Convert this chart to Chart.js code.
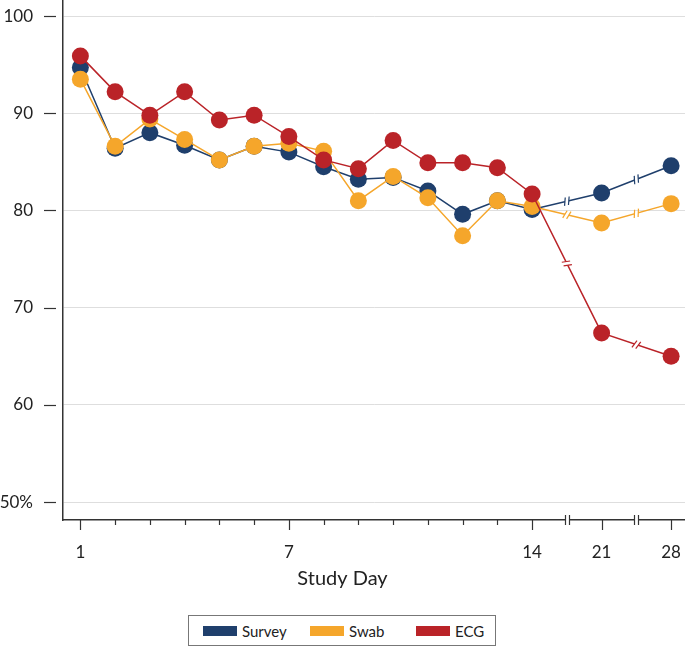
<!DOCTYPE html>
<html>
<head>
<meta charset="utf-8">
<script src="https://cdn.jsdelivr.net/npm/chart.js@4"></script>
<style>
  body { margin: 0; background: #fff; font-family: Lato, "Open Sans", sans-serif; }
  #wrap { position: relative; width: 685px; height: 646px; }
  #legend { position: absolute; left: 188px; top: 615px; width: 306px; height: 29px; border: 1px solid #777; font-size: 15px; color: #222; }
  .item { position: absolute; top: 0; height: 29px; display: flex; align-items: center; }
  .sw { width: 34px; height: 10px; margin-right: 5px; }
</style>
</head>
<body>
<div id="wrap">
  <canvas id="chart" width="685" height="608"></canvas>
  <div id="legend"></div>
</div>
<script>
const DAYS = [1, 2, 3, 4, 5, 6, 7, 8, 9, 10, 11, 12, 13, 14, 21, 28];
const LABELED_DAYS = [1, 7, 14, 21, 28];
const Y_TICKS = [50, 60, 70, 80, 90, 100];
const SURVEY = [94.7, 86.4, 88.0, 86.7, 85.2, 86.6, 86.0, 84.5, 83.2, 83.4, 82.0, 79.6, 81.0, 80.1, 81.8, 84.6];
const SWAB = [93.5, 86.6, 89.4, 87.3, 85.2, 86.6, 86.9, 86.1, 81.0, 83.5, 81.3, 77.4, 81.0, 80.4, 78.7, 80.7];
const ECG = [95.9, 92.2, 89.8, 92.2, 89.3, 89.8, 87.6, 85.2, 84.3, 87.2, 84.9, 84.9, 84.4, 81.7, 67.4, 65.0];

const SERIES = [
  { label: "Survey", values: SURVEY, color: "#1f3f6c", order: 3 },
  { label: "Swab", values: SWAB, color: "#f5a62b", order: 2 },
  { label: "ECG", values: ECG, color: "#ba2328", order: 1 },
];

// daily slots up to day 14, then weekly days squeezed into two slots each
function slot(day) {
  return day <= 14 ? day - 1 : 13 + (day - 14) / 3.5;
}

// indexes i where the axis jumps between DAYS[i] and DAYS[i + 1]
const gaps = DAYS.slice(0, -1).map((d, i) => i).filter((i) => DAYS[i + 1] - DAYS[i] > 1);

// chart.js reserves room for the edge labels + tick padding; we don't want that
function noEdgePadding(s) {
  s.paddingTop = 0;
  s.paddingBottom = 0;
  s.paddingLeft = 0;
  s.paddingRight = 0;
}

function breakMark(ctx, cx, cy, angle, color) {
  ctx.save();
  ctx.translate(cx, cy);
  ctx.rotate(angle);
  ctx.fillStyle = "#fff";
  ctx.fillRect(-2, -2, 4, 4);
  ctx.strokeStyle = color;
  ctx.lineWidth = 1.2;
  [-2, 2].forEach((dx) => {
    ctx.beginPath();
    ctx.moveTo(dx - 1.3, 4);
    ctx.lineTo(dx + 1.3, -4);
    ctx.stroke();
  });
  ctx.restore();
}

const axisMarks = {
  id: "axisMarks",
  afterDatasetsDraw(chart) {
    const ctx = chart.ctx;
    chart.data.datasets.forEach((ds, di) => {
      const pts = chart.getDatasetMeta(di).data;
      gaps.forEach((i) => {
        const a = pts[i], b = pts[i + 1];
        breakMark(ctx, (a.x + b.x) / 2, (a.y + b.y) / 2, Math.atan2(b.y - a.y, b.x - a.x), ds.borderColor);
      });
    });
  },
  afterDraw(chart) {
    const { ctx, scales: { x, y }, chartArea } = chart;
    ctx.save();
    ctx.strokeStyle = "#333";
    ctx.lineWidth = 1.2;
    Y_TICKS.forEach((v) => {
      const py = Math.round(y.getPixelForValue(v)) + 0.5;
      ctx.beginPath();
      ctx.moveTo(chartArea.left - 19, py);
      ctx.lineTo(chartArea.left - 7, py);
      ctx.stroke();
    });
    const base = chartArea.bottom;
    DAYS.forEach((d) => {
      const px = Math.round(x.getPixelForValue(slot(d))) + 0.5;
      const len = LABELED_DAYS.includes(d) ? 10 : 5;
      ctx.beginPath();
      ctx.moveTo(px, base);
      ctx.lineTo(px, base + len);
      ctx.stroke();
    });
    gaps.forEach((i) => {
      const px = Math.round(x.getPixelForValue((slot(DAYS[i]) + slot(DAYS[i + 1])) / 2));
      ctx.fillStyle = "#fff";
      ctx.fillRect(px - 2, base - 2, 4, 4);
      [px - 2, px + 2].forEach((bx) => {
        ctx.beginPath();
        ctx.moveTo(bx + 0.5, base - 5);
        ctx.lineTo(bx + 0.5, base + 5);
        ctx.stroke();
      });
    });
    ctx.restore();
  },
};

new Chart(document.getElementById("chart"), {
  type: "line",
  data: {
    datasets: SERIES.map((s) => ({
      label: s.label,
      data: DAYS.map((d, i) => ({ x: slot(d), y: s.values[i] })),
      borderColor: s.color,
      backgroundColor: s.color,
      pointBackgroundColor: s.color,
      pointBorderWidth: 0,
      pointRadius: 8.5,
      borderWidth: 1.5,
      tension: 0,
      order: s.order,
    })),
  },
  options: {
    responsive: false,
    animation: false,
    layout: { padding: 0, autoPadding: false },
    plugins: {
      legend: { display: false },
      tooltip: { enabled: false },
      // axis title sits centred on the whole figure, not on the plot
      title: {
        display: true,
        position: "bottom",
        text: "Study Day",
        color: "#222",
        font: { family: "Lato", size: 20, weight: "normal" },
        padding: { top: 0, bottom: 17 },
      },
    },
    scales: {
      x: {
        type: "linear",
        min: -0.5,
        max: 17.4,
        afterBuildTicks: (s) => { s.ticks = DAYS.map((d) => ({ value: slot(d) })); },
        afterFit: (s) => { s.height = 47; noEdgePadding(s); },
        grid: { display: false },
        border: { color: "#333", width: 1.5 },
        ticks: {
          autoSkip: false,
          maxRotation: 0,
          padding: 14,
          color: "#222",
          font: { family: "Lato", size: 17 },
          callback: (v) => {
            const d = DAYS.find((day) => slot(day) === v);
            return LABELED_DAYS.includes(d) ? String(d) : "";
          },
        },
      },
      y: {
        min: 48.15,
        max: 101.65,
        afterBuildTicks: (s) => { s.ticks = Y_TICKS.map((v) => ({ value: v })); },
        afterFit: (s) => { s.width = 63; noEdgePadding(s); },
        grid: { color: "#dedede", lineWidth: 1, drawTicks: false },
        border: { color: "#333", width: 1.5 },
        ticks: {
          padding: 30,
          color: "#222",
          font: { family: "Lato", size: 17 },
          callback: (v) => (v === 50 ? "50%" : String(v)),
        },
      },
    },
  },
  plugins: [axisMarks],
});

const legendLeft = [14, 121, 227];
document.getElementById("legend").innerHTML = SERIES.map((s, i) => `
  <div class="item" style="left:${legendLeft[i]}px">
    <div class="sw" style="background:${s.color}"></div><span>${s.label}</span>
  </div>`).join("");
</script>
</body>
</html>
